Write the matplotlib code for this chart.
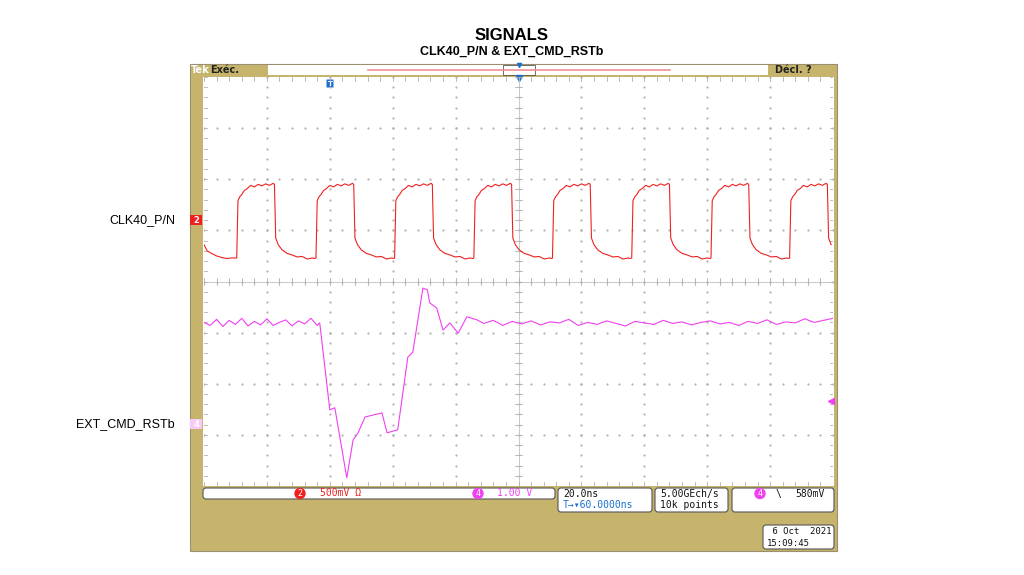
import matplotlib.pyplot as plt
from matplotlib.patches import Rectangle, FancyBboxPatch, Circle
import numpy as np

W, H = 1024, 575
TAN = "#c6b46c"
RED = "#f02020"
PINK = "#f040f0"
BLUE = "#1a6fd0"

# screen graticule in pixel coords
GX0, GX1, GY0, GY1 = 204, 833, 77, 486

# CLK40_P/N (ch2): rising-edge times (div) and one-cycle shape (dt div, level div)
CLK_RISE = [0.52, 1.78, 3.03, 4.29, 5.54, 6.80, 8.06, 9.31]
CLK_DT = [0.00, 0.02, 0.05, 0.08, 0.12, 0.17, 0.22, 0.28, 0.34, 0.40, 0.46, 0.52, 0.58,
          0.60, 0.62, 0.66, 0.72, 0.80, 0.88, 0.96, 1.04, 1.12, 1.20, 1.24]
CLK_V = [4.46, 5.58, 5.66, 5.70, 5.78, 5.82, 5.88, 5.85, 5.90, 5.87, 5.91, 5.88, 5.92,
         5.90, 4.85, 4.72, 4.62, 4.55, 4.52, 4.48, 4.49, 4.44, 4.46, 4.45]
CLK_START_X = [0.00, 0.05, 0.12, 0.20, 0.28, 0.36, 0.44, 0.52]
CLK_START_V = [4.72, 4.60, 4.55, 4.50, 4.47, 4.45, 4.46, 4.46]

# EXT_CMD_RSTb (ch4) trace, x / y in divisions
RST_X = [0.00, 0.10, 0.20, 0.30, 0.40, 0.50, 0.60, 0.70, 0.80, 0.90, 1.00, 1.10,
         1.20, 1.30, 1.40, 1.50, 1.60, 1.70, 1.80, 1.84,
         2.00, 2.08, 2.27, 2.37, 2.45, 2.56, 2.83, 2.91, 3.08, 3.24, 3.32, 3.48,
         3.55, 3.59, 3.70, 3.80, 3.91, 4.04, 4.18, 4.34,
         4.45, 4.60, 4.75, 4.90, 5.05, 5.20, 5.35, 5.50, 5.65, 5.80, 5.95, 6.10,
         6.25, 6.40, 6.55, 6.70, 6.85, 7.00, 7.15, 7.30, 7.45, 7.60, 7.75, 7.90,
         8.05, 8.20, 8.35, 8.50, 8.65, 8.80, 8.95, 9.10, 9.25, 9.40, 9.55, 9.70,
         9.85, 10.0]
RST_Y = [3.20, 3.14, 3.26, 3.12, 3.24, 3.16, 3.28, 3.13, 3.22, 3.15, 3.27, 3.14,
         3.20, 3.25, 3.13, 3.23, 3.17, 3.28, 3.14, 3.19,
         1.49, 1.53, 0.16, 0.90, 1.04, 1.35, 1.43, 1.04, 1.10, 2.52, 2.62, 3.87,
         3.84, 3.58, 3.48, 3.05, 3.19, 2.99, 3.31, 3.25,
         3.18, 3.24, 3.14, 3.22, 3.17, 3.23, 3.15, 3.21, 3.19, 3.26, 3.14, 3.20,
         3.16, 3.23, 3.18, 3.13, 3.22, 3.19, 3.16, 3.24, 3.18, 3.21, 3.15, 3.20,
         3.23, 3.17, 3.20, 3.14, 3.22, 3.18, 3.25, 3.16, 3.21, 3.19, 3.27, 3.20,
         3.24, 3.28]

CH2_LEVEL = 5.2   # ch2 marker (div)
CH4_LEVEL = 1.21  # ch4 marker (div)
TRIG_LEVEL = 1.66  # trigger level arrow (div)

fig = plt.figure(figsize=(W / 100, H / 100), dpi=100)
bg = fig.add_axes([0, 0, 1, 1])
bg.set_xlim(0, W)
bg.set_ylim(H, 0)
bg.axis("off")

fig.text(0.5, 1 - 35 / H, "SIGNALS", ha="center", va="center", fontsize=12, fontweight="bold",
         family="Liberation Sans")
fig.text(0.5, 1 - 52 / H, "CLK40_P/N & EXT_CMD_RSTb", ha="center", va="center", fontsize=9,
         fontweight="bold", family="Liberation Sans")
bg.text(175, 220, "CLK40_P/N", ha="right", va="center", fontsize=9, family="Liberation Sans")
bg.text(175, 424, "EXT_CMD_RSTb", ha="right", va="center", fontsize=9, family="Liberation Sans")

# scope frame
bg.add_patch(Rectangle((190, 64), 647, 487, facecolor=TAN, edgecolor="#9a9070", lw=0.8))
bg.add_patch(Rectangle((GX0 - 1, GY0), GX1 - GX0 + 2, GY1 - GY0, facecolor="white", edgecolor="none"))
bg.add_patch(Rectangle((268, 65), 500, 10, facecolor="white", edgecolor="none"))
bg.plot([368, 670], [69.5, 69.5], color="#f09090", lw=1.2)
bg.add_patch(Rectangle((503, 65), 32, 10, facecolor="none", edgecolor="#555555", lw=0.6))
bg.text(191, 70, "Tek", color="white", fontsize=7, va="center", fontweight="bold")
bg.text(210, 70, "Exéc.", color="#222222", fontsize=7, va="center", fontweight="bold")
bg.text(775, 70, "Décl. ?", color="#222222", fontsize=7, va="center", fontweight="bold")
bg.plot(519, 78, marker="v", color=BLUE, ms=5)
bg.plot(519, 65, marker="v", color=BLUE, ms=3)
bg.add_patch(FancyBboxPatch((327, 80), 6, 7, boxstyle="round,pad=0.5", facecolor=BLUE, edgecolor="none"))
bg.text(330, 83.5, "T", color="white", fontsize=5, ha="center", va="center", fontweight="bold")

# side markers
ypix = lambda d: GY1 - d * (GY1 - GY0) / 8
bg.add_patch(Rectangle((190, ypix(CH2_LEVEL) - 5), 12, 10, facecolor=RED, edgecolor="none"))
bg.text(196, ypix(CH2_LEVEL), "2", color="white", fontsize=6, ha="center", va="center", fontweight="bold")
bg.add_patch(Rectangle((190, ypix(CH4_LEVEL) - 5), 12, 10, facecolor="#f8c8f8", edgecolor="none"))
bg.text(196, ypix(CH4_LEVEL), "4", color="white", fontsize=6, ha="center", va="center", fontweight="bold")
bg.plot(831, ypix(TRIG_LEVEL), marker="<", color=PINK, ms=4)


def box(x, y, w, h):
    bg.add_patch(FancyBboxPatch((x, y), w, h, boxstyle="round,pad=0,rounding_size=3",
                                facecolor="white", edgecolor="#555555", lw=0.8))


# bottom readout boxes
box(203, 488, 352, 11)
box(558, 488, 94, 24)
box(655, 488, 73, 24)
box(732, 488, 102, 24)
box(763, 525, 71, 24)
mono = dict(family="DejaVu Sans Mono", fontsize=7, va="center")
bg.add_patch(Circle((300, 493.5), 5, color=RED))
bg.text(300, 493.5, "2", color="white", ha="center", **{**mono, "fontsize": 6})
bg.text(320, 493.5, "500mV Ω", color=RED, **mono)
bg.add_patch(Circle((478, 493.5), 5, color=PINK))
bg.text(478, 493.5, "4", color="white", ha="center", **{**mono, "fontsize": 6})
bg.text(497, 493.5, "1.00 V", color=PINK, **mono)
bg.text(563, 494, "20.0ns", color="#111111", **mono)
bg.text(563, 505, "T→▾60.0000ns", color=BLUE, **mono)
bg.text(660, 494, "5.00GEch/s", color="#111111", **mono)
bg.text(660, 505, "10k points", color="#111111", **mono)
bg.add_patch(Circle((760, 493.5), 5, color=PINK))
bg.text(760, 493.5, "4", color="white", ha="center", **{**mono, "fontsize": 6})
bg.text(776, 494, "\\", color="#111111", **mono)
bg.text(795, 494, "580mV", color="#111111", **mono)
bg.text(767, 531, " 6 Oct  2021", color="#111111", **{**mono, "fontsize": 6.5})
bg.text(767, 543, "15:09:45", color="#111111", **{**mono, "fontsize": 6.5})

# graticule axes
ax = fig.add_axes([GX0 / W, 1 - GY1 / H, (GX1 - GX0) / W, (GY1 - GY0) / H])
ax.set_xlim(0, 10)
ax.set_ylim(0, 8)
ax.axis("off")
sub = np.arange(0, 10.01, 0.2)
for yy in range(1, 8):
    ax.plot(sub, [yy] * len(sub), ls="none", marker=".", ms=1.2, color="#b0b0b0")
subv = np.arange(0, 8.01, 0.2)
for xx in range(1, 10):
    ax.plot([xx] * len(subv), subv, ls="none", marker=".", ms=1.2, color="#b0b0b0")
ax.axhline(4, color="#c8c8c8", lw=0.7)
ax.axvline(5, color="#c8c8c8", lw=0.7)
for xx in sub:
    for yy in (0, 4, 8):
        ax.plot([xx, xx], [yy - 0.07, yy + 0.07], color="#b0b0b0", lw=0.6)
for yy in subv:
    for xx in (0, 5, 10):
        ax.plot([xx - 0.05, xx + 0.05], [yy, yy], color="#b0b0b0", lw=0.6)

clk_x = list(CLK_START_X)
clk_y = list(CLK_START_V)
for r in CLK_RISE:
    clk_x += [r + d for d in CLK_DT]
    clk_y += CLK_V
clk_x = np.array(clk_x)
clk_y = np.array(clk_y)
keep = clk_x <= 10
ax.plot(clk_x[keep], clk_y[keep], color=RED, lw=0.8)
ax.plot(RST_X, RST_Y, color=PINK, lw=0.8)

fig.savefig("out.png", dpi=100)
